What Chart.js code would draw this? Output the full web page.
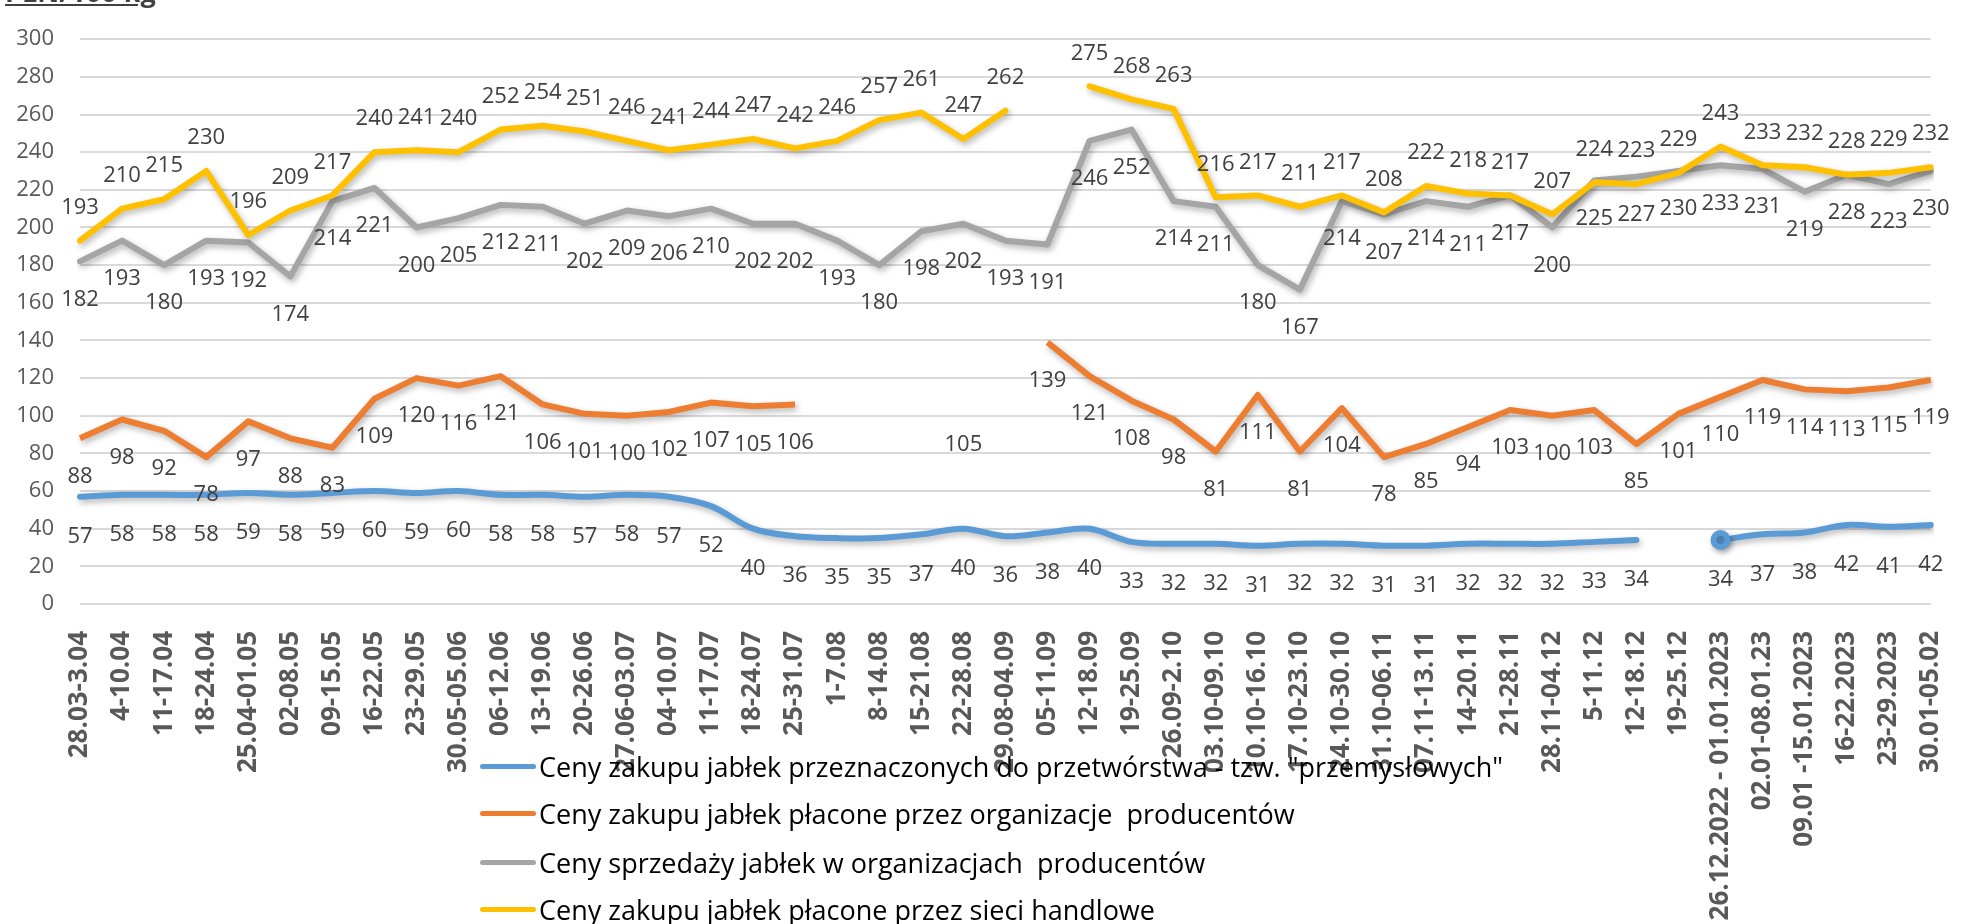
<!DOCTYPE html>
<html>
<head>
<meta charset="utf-8">
<script src="https://cdn.jsdelivr.net/npm/chart.js@4.4.1/dist/chart.umd.min.js"></script>
<style>
  body { margin: 0; background: #fff; }
  #wrap { position: relative; width: 1981px; height: 924px; overflow: hidden; }
  #unit { position: absolute; left: 5px; top: -22px; font: bold 27px 'Open Sans'; line-height: 27px;
          color: #404040; text-decoration: underline; white-space: nowrap; }
  #legend { position: absolute; left: 480px; top: 0; font: 27px 'Open Sans'; color: #000; }
  .row { position: absolute; left: 0; height: 40px; display: flex; align-items: center; white-space: nowrap; }
  .swatch { width: 56px; height: 5px; border-radius: 3px; margin-right: 3px; }
</style>
</head>
<body>
<div id="wrap">
  <canvas id="chart" width="1981" height="924"></canvas>
  <div id="unit">PLN/100 kg</div>
  <div id="legend"></div>
</div>
<script>
const labels = ['28.03-3.04', '4-10.04', '11-17.04', '18-24.04', '25.04-01.05', '02-08.05', '09-15.05',
  '16-22.05', '23-29.05', '30.05-05.06', '06-12.06', '13-19.06', '20-26.06', '27.06-03.07', '04-10.07',
  '11-17.07', '18-24.07', '25-31.07', '1-7.08', '8-14.08', '15-21.08', '22-28.08', '29.08-04.09',
  '05-11.09', '12-18.09', '19-25.09', '26.09-2.10', '03.10-09.10', '10.10-16.10', '17.10-23.10',
  '24.10-30.10', '31.10-06.11', '07.11-13.11', '14-20.11', '21-28.11', '28.11-04.12', '5-11.12',
  '12-18.12', '19-25.12', '26.12.2022 - 01.01.2023', '02.01-08.01.23', '09.01 -15.01.2023',
  '16-22.2023', '23-29.2023', '30.01-05.02'];

const industrial = [57, 58, 58, 58, 59, 58, 59, 60, 59, 60, 58, 58, 57, 58, 57, 52, 40, 36, 35, 35, 37, 40,
  36, 38, 40, 33, 32, 32, 31, 32, 32, 31, 31, 32, 32, 32, 33, 34, null, 34, 37, 38, 42, 41, 42];
const poBuying = [88, 98, 92, 78, 97, 88, 83, 109, 120, 116, 121, 106, 101, 100, 102, 107, 105, 106,
  null, null, null, 105, null, 139, 121, 108, 98, 81, 111, 81, 104, 78, 85, 94, 103, 100, 103, 85, 101,
  110, 119, 114, 113, 115, 119];
const poSelling = [182, 193, 180, 193, 192, 174, 214, 221, 200, 205, 212, 211, 202, 209, 206, 210, 202, 202,
  193, 180, 198, 202, 193, 191, 246, 252, 214, 211, 180, 167, 214, 207, 214, 211, 217, 200, 225, 227, 230,
  233, 231, 219, 228, 223, 230];
const retail = [193, 210, 215, 230, 196, 209, 217, 240, 241, 240, 252, 254, 251, 246, 241, 244, 247, 242,
  246, 257, 261, 247, 262, null, 275, 268, 263, 216, 217, 211, 217, 208, 222, 218, 217, 207, 224, 223, 229,
  243, 233, 232, 228, 229, 232];

const seriesNames = [
  'Ceny zakupu jabłek przeznaczonych do przetwórstwa - tzw. "przemysłowych"',
  'Ceny zakupu jabłek płacone przez organizacje  producentów',
  'Ceny sprzedaży jabłek w organizacjach  producentów',
  'Ceny zakupu jabłek płacone przez sieci handlowe'
];
const colors = ['#5B9BD5', '#ED7D31', '#A5A5A5', '#FFC000'];
const labelOffsets = [40, 38, 38, -33];

Chart.defaults.font.family = "'Open Sans'";

// data labels drawn next to each point
const valueLabels = {
  id: 'valueLabels',
  afterDatasetsDraw(chart) {
    const ctx = chart.ctx;
    ctx.save();
    ctx.font = "22px 'Open Sans'";
    ctx.fillStyle = '#404040';
    ctx.textAlign = 'center';
    ctx.textBaseline = 'middle';
    chart.data.datasets.forEach((ds, i) => {
      const meta = chart.getDatasetMeta(i);
      meta.data.forEach((pt, j) => {
        const v = ds.data[j];
        if (v === null || v === undefined) return;
        ctx.fillText(String(v), pt.x, pt.y + labelOffsets[i]);
      });
    });
    ctx.restore();
  }
};

// soft shadow under the lines, like the office chart
const lineShadow = {
  id: 'lineShadow',
  beforeDatasetDraw(chart) {
    const ctx = chart.ctx;
    ctx.save();
    ctx.shadowColor = 'rgba(0,0,0,0.3)';
    ctx.shadowBlur = 6;
    ctx.shadowOffsetX = 2;
    ctx.shadowOffsetY = 3;
  },
  afterDatasetDraw(chart) {
    chart.ctx.restore();
  }
};

const makeSet = (i, data, extra) => Object.assign({
  label: seriesNames[i],
  data,
  borderColor: colors[i],
  backgroundColor: colors[i],
  borderWidth: 6,
  pointRadius: 0,
  borderCapStyle: 'round',
  borderJoinStyle: 'round',
  tension: 0,
  spanGaps: false,
  order: 4 - i
}, extra || {});

new Chart(document.getElementById('chart'), {
  type: 'line',
  data: {
    labels,
    datasets: [
      makeSet(0, industrial, {
        tension: 0.35,
        pointRadius: ctx => (ctx.dataIndex === 39 ? 7 : 0)
      }),
      // lone value at 22-28.08 has a label but no visible mark
      makeSet(1, poBuying, { borderCapStyle: 'butt' }),
      makeSet(2, poSelling),
      makeSet(3, retail)
    ]
  },
  options: {
    responsive: false,
    animation: false,
    devicePixelRatio: 1,
    layout: { padding: { left: 0, right: 4, top: 21, bottom: 0 } },
    plugins: {
      legend: { display: false },
      tooltip: { enabled: false }
    },
    scales: {
      x: {
        grid: { display: false },
        border: { display: false },
        ticks: {
          autoSkip: false,
          maxRotation: 90,
          minRotation: 90,
          padding: 19,
          color: '#595959',
          font: { size: 26, weight: 'bold' }
        },
        afterFit(scale) { scale.height = 320; }
      },
      y: {
        min: 0,
        max: 300,
        grid: { color: '#D9D9D9', lineWidth: 2, drawTicks: false },
        border: { display: false },
        ticks: {
          stepSize: 20,
          padding: 26,
          color: '#595959',
          font: { size: 22 }
        },
        afterFit(scale) { scale.width = 80; }
      }
    }
  },
  plugins: [lineShadow, valueLabels]
});

// legend over the axis labels, as in the source
const legend = document.getElementById('legend');
const rowY = [766, 813, 862, 909];
seriesNames.forEach((name, i) => {
  const row = document.createElement('div');
  row.className = 'row';
  row.style.top = (rowY[i] - 20) + 'px';
  row.innerHTML = '<span class="swatch" style="background:' + colors[i] + '"></span><span></span>';
  row.lastChild.textContent = name;
  row.lastChild.style.whiteSpace = 'pre';
  legend.appendChild(row);
});
</script>
</body>
</html>
